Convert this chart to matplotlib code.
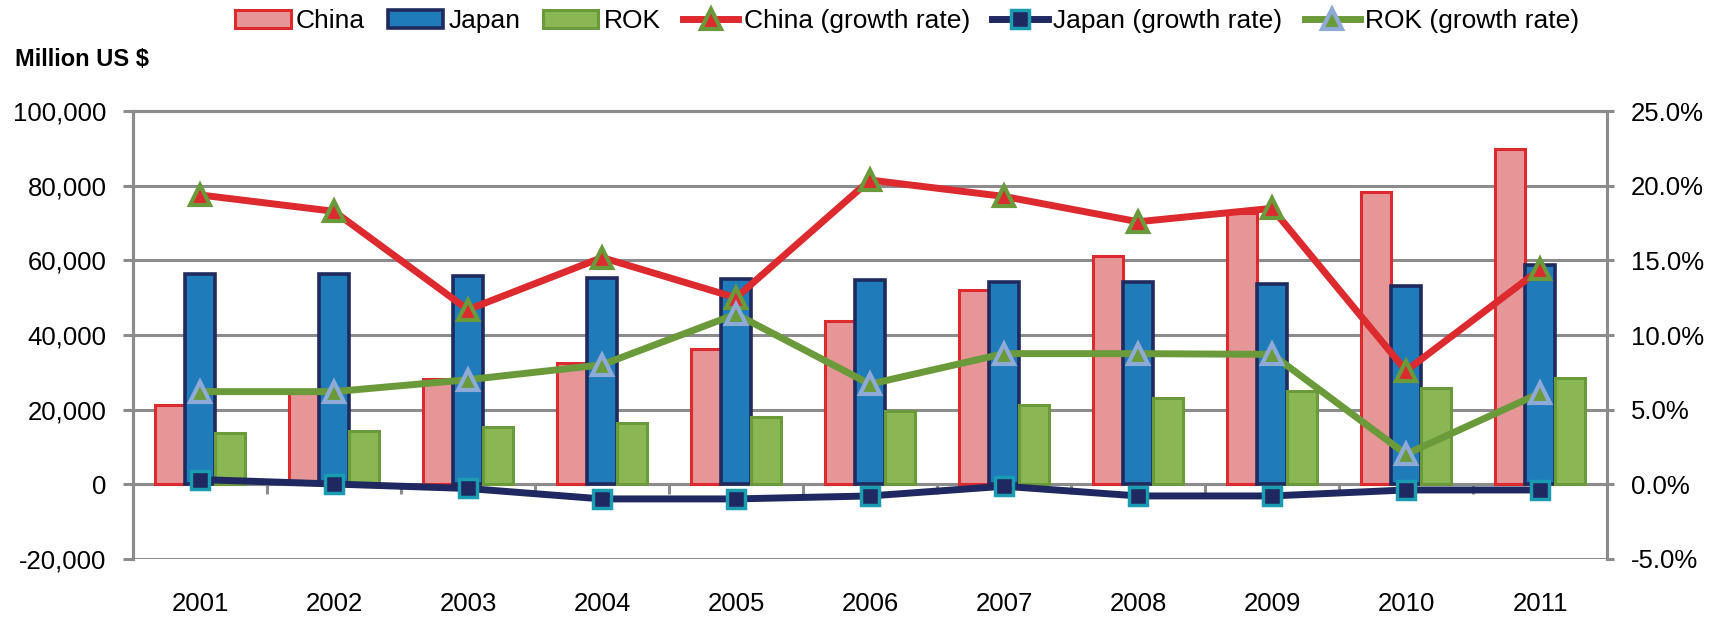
import matplotlib
matplotlib.use("Agg")
import matplotlib.pyplot as plt
import numpy as np
from matplotlib.ticker import FuncFormatter

plt.rcParams['font.family'] = ['Liberation Sans', 'DejaVu Sans']

# Werte: Million US $ und Wachstumsraten (%)
years = ['2001', '2002', '2003', '2004', '2005', '2006', '2007', '2008', '2009', '2010', '2011']
china = [21300, 25200, 28100, 32400, 36300, 43800, 52200, 61300, 72700, 78500, 89900]
japan = [56500, 56500, 55900, 55400, 54900, 54800, 54300, 54200, 53700, 53100, 58700]
rok = [13700, 14100, 15300, 16400, 18000, 19700, 21300, 23100, 25100, 25700, 28500]
china_rate = [19.4, 18.3, 11.7, 15.2, 12.5, 20.4, 19.3, 17.6, 18.5, 7.6, 14.4]
japan_rate = [0.3, 0.0, -0.3, -1.0, -1.0, -0.8, -0.15, -0.8, -0.8, -0.4, -0.4]
rok_rate = [6.2, 6.2, 7.0, 8.0, 11.4, 6.7, 8.75, 8.75, 8.7, 2.0, 6.1]

grey = '#8c8c8c'
x = np.arange(len(years))
w = 0.222

fig = plt.figure(figsize=(17.25, 6.19), dpi=100)
ax = fig.add_axes([0.0771, 0.0977, 0.8545, 0.7222])
ax2 = ax.twinx()

# Balken
ax.bar(x - w, china, w, color='#e69697', edgecolor='#dc2a2e', linewidth=2.2, label='China', zorder=3)
ax.bar(x, japan, w, color='#1f7bb9', edgecolor='#1f2a5e', linewidth=2.6, label='Japan', zorder=3)
ax.bar(x + w, rok, w, color='#8ab753', edgecolor='#6b9a3b', linewidth=2.2, label='ROK', zorder=3)

# Wachstumsraten auf der rechten Achse
rates = np.array([china_rate, japan_rate, rok_rate]) / 100
ax2.plot(x, rates[0], color='#dc2a2e', lw=5, marker='^', ms=14, mfc='#dc2a2e',
         mec='#6b9a3b', mew=3, label='China (growth rate)', zorder=4)
ax2.plot(x, rates[1], color='#1f2860', lw=5, marker='s', ms=13, mfc='#1f2860',
         mec='#1a9cb2', mew=2.5, label='Japan (growth rate)', zorder=4)
ax2.plot(x, rates[2], color='#6b9a3b', lw=5, marker='^', ms=14, mfc='#6b9a3b',
         mec='#8eaad6', mew=3, label='ROK (growth rate)', zorder=4)

# Achsen
ax.set_xlim(-0.5, len(years) - 0.5)
ax.set_ylim(-20000, 100000)
ax2.set_ylim(-0.05, 0.25)
ax.set_yticks(np.arange(-20000, 100001, 20000))
ax2.set_yticks(np.arange(-0.05, 0.2501, 0.05))
ax.yaxis.set_major_formatter(FuncFormatter(lambda v, p: f'{v:,.0f}'))
ax2.yaxis.set_major_formatter(FuncFormatter(lambda v, p: f'{v * 100:.1f}%'))

ax.yaxis.grid(True, color=grey, lw=2.2, zorder=0)
ax.set_axisbelow(True)
ax.axhline(0, color=grey, lw=2.2, zorder=1)
ax.vlines(x[:-1] + 0.5, -2700, 0, color=grey, lw=2.2, zorder=1)

ax.set_xticks(x)
ax.set_xticklabels(years)
ax.tick_params(axis='x', length=0, pad=24, labelsize=18.5)
ax.tick_params(axis='y', length=7, width=2.2, color=grey, pad=12, labelsize=18.5)
ax2.tick_params(axis='y', length=5, width=2.2, color=grey, pad=12, labelsize=18.5)

for a in (ax, ax2):
    for side in ('left', 'right', 'top'):
        a.spines[side].set_color(grey)
        a.spines[side].set_linewidth(2.2)
    a.spines['bottom'].set_visible(False)

fig.text(15 / 1725, 1 - 60 / 619, 'Million US $', fontsize=17, fontweight='bold', va='center')

# Legende
h1, l1 = ax.get_legend_handles_labels()
h2, l2 = ax2.get_legend_handles_labels()
fig.legend(h1 + h2, l1 + l2, loc='center', bbox_to_anchor=(0.526, 0.966), ncol=6,
           frameon=False, fontsize=19, handlelength=2.1, handletextpad=0.2,
           columnspacing=0.85)

fig.savefig('out.png', dpi=100)
